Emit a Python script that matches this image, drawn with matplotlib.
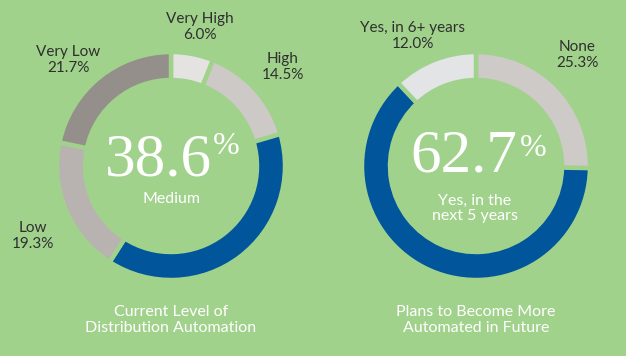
import matplotlib.pyplot as plt

# --- data ---
level_labels = ["Very High", "High", "Medium", "Low", "Very Low"]
level_values = [6.0, 14.5, 38.6, 19.3, 21.7]
level_colors = ["#e4e3e2", "#cdc9c6", "#00559b", "#b8b3b0", "#958f8b"]

plan_labels = ["None", "Yes, in the\nnext 5 years", "Yes, in 6+ years"]
plan_values = [25.3, 62.7, 12.0]
plan_colors = ["#cdcac7", "#00559b", "#e2e4e6"]

titles = ["Current Level of\nDistribution Automation",
          "Plans to Become More\nAutomated in Future"]

bg = "#a1d28c"
W, H = 626, 356

fig = plt.figure(figsize=(W / 100, H / 100), dpi=100, facecolor=bg)
ax = fig.add_axes([0, 0, 1, 1])
ax.set_facecolor(bg)

R = 114
ring = 28
centers = [(171, H - 166), (476, H - 166)]

for (cx, cy), vals, cols in zip(centers, [level_values, plan_values],
                                [level_colors, plan_colors]):
    ax.pie(vals, colors=cols, startangle=90, counterclock=False,
           center=(cx, cy), radius=R,
           wedgeprops=dict(width=ring, edgecolor=bg, linewidth=3.2))

ax.set_xlim(0, W)
ax.set_ylim(0, H)
ax.set_aspect("equal")
ax.axis("off")

sans = "Lato"
serif = "Liberation Serif"
dark = "#2f2f2f"

def outer_label(x, y, name, val):
    ax.text(x, H - y, name, ha="center", va="center", fontsize=11,
            family=sans, color=dark)
    ax.text(x, H - y - 16, f"{val:.1f}%", ha="center", va="center",
            fontsize=11, family=sans, color=dark)

# left donut labels
outer_label(200, 19, level_labels[0], level_values[0])
outer_label(283, 59, level_labels[1], level_values[1])
outer_label(33, 228, level_labels[3], level_values[3])
outer_label(68, 52, level_labels[4], level_values[4])
# right donut labels
outer_label(577, 47, plan_labels[0], plan_values[0])
outer_label(413, 28, plan_labels[2], plan_values[2])

# centre numbers
def big_number(num_x, base_y, pct_x, pct_y, val, sub, sub_x, sub_y):
    ax.text(num_x, H - base_y, f"{val:.1f}", ha="center", va="baseline",
            fontsize=44, family=serif, color="white")
    ax.text(pct_x, H - pct_y, "%", ha="center", va="center",
            fontsize=23, family=serif, color="white")
    ax.text(sub_x, H - sub_y, sub, ha="center", va="center", fontsize=11.5,
            family=sans, color="white", linespacing=1.1)

big_number(158, 176, 226, 147, level_values[2], level_labels[2], 172, 199)
big_number(464, 171, 533, 148, plan_values[1], plan_labels[1], 475, 208)

# captions
ax.text(171, H - 320, titles[0], ha="center", va="center", fontsize=11.5,
        family=sans, color="white", linespacing=1.2)
ax.text(476, H - 320, titles[1], ha="center", va="center", fontsize=11.5,
        family=sans, color="white", linespacing=1.2)

fig.savefig("out.png", dpi=100, facecolor=bg)
